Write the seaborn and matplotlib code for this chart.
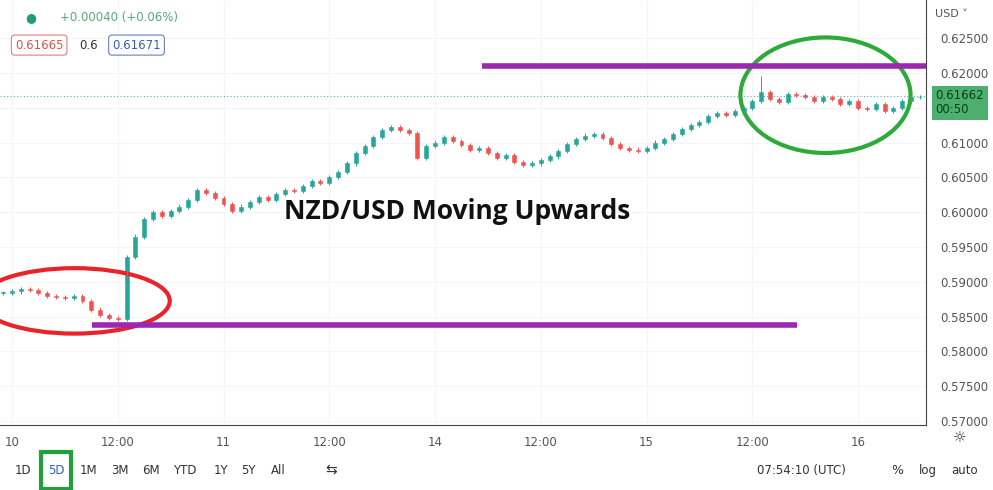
import matplotlib
matplotlib.use('Agg')
import matplotlib.pyplot as plt
from matplotlib.patches import Ellipse, FancyBboxPatch
import numpy as np
import seaborn as sns

# hourly closes, first candle at hour -1 (day "10" starts at hour 0)
closes = [0.5884, 0.5886, 0.5889, 0.5888, 0.5884, 0.5880, 0.5878, 0.5877, 0.5879, 0.5872,
          0.5860, 0.5852, 0.5848, 0.5846, 0.5935, 0.5965, 0.5990, 0.6000, 0.5995, 0.6002,
          0.6008, 0.6018, 0.6032, 0.6028, 0.6020, 0.6012, 0.6002, 0.6008, 0.6015, 0.6022,
          0.6018, 0.6026, 0.6032, 0.6030, 0.6038, 0.6045, 0.6042, 0.6050, 0.6058, 0.6070,
          0.6085, 0.6095, 0.6108, 0.6118, 0.6122, 0.6118, 0.6114, 0.6078, 0.6095, 0.6100,
          0.6108, 0.6102, 0.6096, 0.6090, 0.6092, 0.6085, 0.6078, 0.6082, 0.6072, 0.6068,
          0.6070, 0.6075, 0.6080, 0.6088, 0.6098, 0.6105, 0.6110, 0.6112, 0.6106, 0.6098,
          0.6092, 0.6090, 0.6088, 0.6092, 0.6100, 0.6105, 0.6112, 0.6120, 0.6125, 0.6130,
          0.6138, 0.6142, 0.6140, 0.6145, 0.6150, 0.6160, 0.6172, 0.6162, 0.6158, 0.6170,
          0.6168, 0.6165, 0.6160, 0.6165, 0.6162, 0.6155, 0.6160, 0.6150, 0.6148, 0.6155,
          0.6145, 0.6150, 0.6160, 0.6165, 0.6166]
start_hour = -1
spike_hour, spike_high = 85, 0.6195

tick_hours = [0, 12, 24, 36, 48, 60, 72, 84, 96]
tick_labels = ['10', '12:00', '11', '12:00', '14', '12:00', '15', '12:00', '16']
price_ticks = [0.570, 0.575, 0.580, 0.585, 0.590, 0.595, 0.600, 0.605, 0.610, 0.615, 0.620, 0.625]

support = (9.1, 89.1, 0.5838)
resistance = (53.3, 103.7, 0.6210)
last_price = 0.61662

UP, DOWN = '#26a69a', '#ef5350'
PURPLE = '#9c27b0'

sns.set_style('white')
plt.rcParams['font.family'] = ['DejaVu Sans']

fig = plt.figure(figsize=(9.93, 4.90), dpi=100)
ax = fig.add_axes([0.0, 0.1327, 0.9325, 0.8673])

hours = np.arange(len(closes)) + start_hour
opens = [closes[0]] + closes[:-1]
for h, o, c in zip(hours, opens, closes):
    col = UP if c >= o else DOWN
    lo, hi = min(o, c), max(o, c)
    top = spike_high if h == spike_hour else hi + 0.0003
    ax.vlines(h, lo - 0.0003, top, color=col, lw=0.7)
    ax.bar(h, max(hi - lo, 0.00008), bottom=lo, width=0.45, color=col, edgecolor=col, lw=0.4)

ax.hlines(support[2], support[0], support[1], color=PURPLE, lw=4)
ax.hlines(resistance[2], resistance[0], resistance[1], color=PURPLE, lw=4)
ax.axhline(last_price, color=UP, lw=0.8, ls=(0, (1, 2)), alpha=0.8)

ax.add_patch(Ellipse((7.1, 0.58725), 21.6, 0.0094, fill=False, ec='#e8232a', lw=3))
ax.add_patch(Ellipse((92.3, 0.6168), 19.3, 0.0166, fill=False, ec='#2eaa3a', lw=3))

ax.text(50.5, 0.6001, 'NZD/USD Moving Upwards', fontsize=19, fontweight='bold',
        family=['Open Sans', 'DejaVu Sans'], ha='center', va='center', color='#111111')

ax.set_xlim(-1.36, 103.7)
ax.set_ylim(0.56942, 0.63048)
ax.set_xticks(tick_hours)
ax.set_xticklabels(tick_labels)
ax.set_yticks(price_ticks)
# the 0.61500 label sits under the live price tag
ax.set_yticklabels(['' if p == 0.615 else f'{p:.5f}' for p in price_ticks])
ax.yaxis.tick_right()
ax.tick_params(axis='both', labelsize=8.5, colors='#555555', length=0, pad=8)
ax.tick_params(axis='y', pad=10)
ax.grid(True, color='#f3f5fa', lw=0.8)
for s in ['left', 'top']:
    ax.spines[s].set_visible(False)
for s in ['right', 'bottom']:
    ax.spines[s].set_color('#444444')
    ax.spines[s].set_linewidth(0.8)

# price label on the right scale
fig.text(0.942, 0.79, '0.61662\n00:50', fontsize=8.5, color='#0a3d1a', va='center',
         linespacing=1.1,
         bbox=dict(boxstyle='square,pad=0.3', fc='#4caf70', ec='none'))
fig.text(0.942, 0.972, 'USD ˅', fontsize=8, color='#555555', va='center')

# header
fig.text(0.025, 0.965, '●', fontsize=9, color='#1b9e77', va='center')
fig.text(0.06, 0.965, '+0.00040 (+0.06%)', fontsize=8.5, color='#58a878', va='center')
fig.text(0.015, 0.908, '0.61665', fontsize=8.5, color='#d9534f', va='center',
         bbox=dict(boxstyle='round,pad=0.3', fc='white', ec='#e08080', lw=0.8))
fig.text(0.08, 0.908, '0.6', fontsize=8.5, color='#333333', va='center')
fig.text(0.113, 0.908, '0.61671', fontsize=8.5, color='#3b5bb5', va='center',
         bbox=dict(boxstyle='round,pad=0.3', fc='white', ec='#6a7fc0', lw=0.8))

# bottom toolbar
bar_y = 0.04
items = [('1D', 0.015), ('5D', 0.048), ('1M', 0.08), ('3M', 0.112), ('6M', 0.143),
         ('YTD', 0.174), ('1Y', 0.215), ('5Y', 0.243), ('All', 0.273)]
for lab, x in items:
    fig.text(x, bar_y, lab, fontsize=8.5, color='#3b5bb5' if lab == '5D' else '#333333',
             va='center')
fig.add_artist(FancyBboxPatch((0.041, 0.002), 0.030, 0.076, boxstyle='square,pad=0',
                              transform=fig.transFigure, fill=False, ec='#21a038', lw=3))
fig.text(0.328, bar_y, '⇆', fontsize=10, color='#333333', va='center')
fig.text(0.762, bar_y, '07:54:10 (UTC)', fontsize=8.5, color='#333333', va='center')
fig.text(0.898, bar_y, '%', fontsize=9, color='#333333', va='center')
fig.text(0.925, bar_y, 'log', fontsize=8.5, color='#333333', va='center')
fig.text(0.958, bar_y, 'auto', fontsize=8.5, color='#333333', va='center')
fig.text(0.966, 0.106, '☼', fontsize=11, color='#333333', ha='center', va='center')

fig.savefig('out.png', dpi=100)
